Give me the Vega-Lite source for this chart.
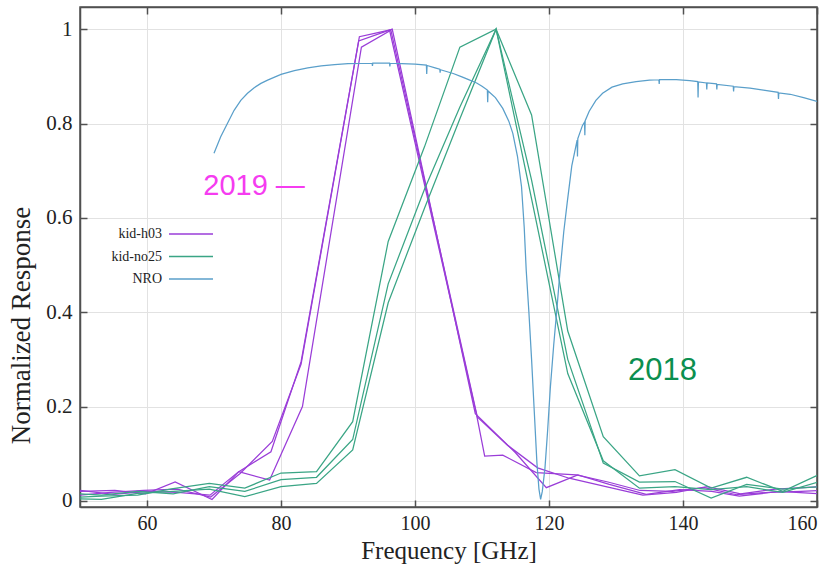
{
  "$schema": "https://vega.github.io/schema/vega-lite/v6.json",
  "width": 737,
  "height": 500,
  "autosize": {"type": "none"},
  "padding": {"left": 80, "top": 7, "right": 21, "bottom": 63},
  "background": "white",
  "config": {
    "view": {"stroke": "#505050", "strokeWidth": 1.5},
    "font": "Liberation Serif"
  },
  "datasets": {
    "curves": [
      {"series":"kid-h03","curve":"h1","f":50,"r":0.02},{"series":"kid-h03","curve":"h1","f":55.2,"r":0.022},{"series":"kid-h03","curve":"h1","f":59.8,"r":0.015},{"series":"kid-h03","curve":"h1","f":64.2,"r":0.04},{"series":"kid-h03","curve":"h1","f":69.7,"r":0.003},{"series":"kid-h03","curve":"h1","f":73.7,"r":0.062},{"series":"kid-h03","curve":"h1","f":78.5,"r":0.104},{"series":"kid-h03","curve":"h1","f":83.0,"r":0.295},{"series":"kid-h03","curve":"h1","f":91.7,"r":0.984},{"series":"kid-h03","curve":"h1","f":96.2,"r":0.998},{"series":"kid-h03","curve":"h1","f":109.2,"r":0.182},{"series":"kid-h03","curve":"h1","f":110.4,"r":0.095},{"series":"kid-h03","curve":"h1","f":113.1,"r":0.097},{"series":"kid-h03","curve":"h1","f":118.1,"r":0.06},{"series":"kid-h03","curve":"h1","f":124.1,"r":0.055},{"series":"kid-h03","curve":"h1","f":128.8,"r":0.04},{"series":"kid-h03","curve":"h1","f":133.6,"r":0.022},{"series":"kid-h03","curve":"h1","f":138.4,"r":0.02},{"series":"kid-h03","curve":"h1","f":143.2,"r":0.028},{"series":"kid-h03","curve":"h1","f":148.0,"r":0.013},{"series":"kid-h03","curve":"h1","f":152.8,"r":0.018},{"series":"kid-h03","curve":"h1","f":157.6,"r":0.02},{"series":"kid-h03","curve":"h1","f":160.5,"r":0.022},
      {"series":"kid-h03","curve":"h2","f":50,"r":0.012},{"series":"kid-h03","curve":"h2","f":54.6,"r":0.018},{"series":"kid-h03","curve":"h2","f":59.5,"r":0.022},{"series":"kid-h03","curve":"h2","f":64.5,"r":0.025},{"series":"kid-h03","curve":"h2","f":69.5,"r":0.008},{"series":"kid-h03","curve":"h2","f":73.9,"r":0.058},{"series":"kid-h03","curve":"h2","f":78.7,"r":0.126},{"series":"kid-h03","curve":"h2","f":83.0,"r":0.29},{"series":"kid-h03","curve":"h2","f":91.6,"r":0.975},{"series":"kid-h03","curve":"h2","f":96.6,"r":1.0},{"series":"kid-h03","curve":"h2","f":109.0,"r":0.185},{"series":"kid-h03","curve":"h2","f":115.0,"r":0.102},{"series":"kid-h03","curve":"h2","f":119.6,"r":0.028},{"series":"kid-h03","curve":"h2","f":124.3,"r":0.055},{"series":"kid-h03","curve":"h2","f":129.0,"r":0.035},{"series":"kid-h03","curve":"h2","f":134.5,"r":0.014},{"series":"kid-h03","curve":"h2","f":139.5,"r":0.024},{"series":"kid-h03","curve":"h2","f":144.3,"r":0.02},{"series":"kid-h03","curve":"h2","f":148.4,"r":0.01},{"series":"kid-h03","curve":"h2","f":154.4,"r":0.02},{"series":"kid-h03","curve":"h2","f":160.5,"r":0.015},
      {"series":"kid-h03","curve":"h3","f":50,"r":0.022},{"series":"kid-h03","curve":"h3","f":55.0,"r":0.014},{"series":"kid-h03","curve":"h3","f":60.0,"r":0.02},{"series":"kid-h03","curve":"h3","f":64.6,"r":0.018},{"series":"kid-h03","curve":"h3","f":69.4,"r":0.012},{"series":"kid-h03","curve":"h3","f":73.7,"r":0.062},{"series":"kid-h03","curve":"h3","f":78.3,"r":0.044},{"series":"kid-h03","curve":"h3","f":83.2,"r":0.2},{"series":"kid-h03","curve":"h3","f":92.0,"r":0.962},{"series":"kid-h03","curve":"h3","f":96.4,"r":0.998},{"series":"kid-h03","curve":"h3","f":109.3,"r":0.178},{"series":"kid-h03","curve":"h3","f":113.8,"r":0.118},{"series":"kid-h03","curve":"h3","f":118.3,"r":0.07},{"series":"kid-h03","curve":"h3","f":123.0,"r":0.048},{"series":"kid-h03","curve":"h3","f":128.5,"r":0.03},{"series":"kid-h03","curve":"h3","f":134.0,"r":0.012},{"series":"kid-h03","curve":"h3","f":139.0,"r":0.018},{"series":"kid-h03","curve":"h3","f":143.6,"r":0.03},{"series":"kid-h03","curve":"h3","f":148.6,"r":0.015},{"series":"kid-h03","curve":"h3","f":153.8,"r":0.025},{"series":"kid-h03","curve":"h3","f":160.5,"r":0.03},
      {"series":"kid-no25","curve":"g1","f":50,"r":0.008},{"series":"kid-no25","curve":"g1","f":53.2,"r":0.01},{"series":"kid-no25","curve":"g1","f":58.6,"r":0.012},{"series":"kid-no25","curve":"g1","f":63.9,"r":0.026},{"series":"kid-no25","curve":"g1","f":69.3,"r":0.037},{"series":"kid-no25","curve":"g1","f":74.6,"r":0.027},{"series":"kid-no25","curve":"g1","f":80.0,"r":0.059},{"series":"kid-no25","curve":"g1","f":85.3,"r":0.062},{"series":"kid-no25","curve":"g1","f":90.7,"r":0.168},{"series":"kid-no25","curve":"g1","f":96.0,"r":0.55},{"series":"kid-no25","curve":"g1","f":101.4,"r":0.75},{"series":"kid-no25","curve":"g1","f":106.7,"r":0.962},{"series":"kid-no25","curve":"g1","f":112.1,"r":1.0},{"series":"kid-no25","curve":"g1","f":117.4,"r":0.818},{"series":"kid-no25","curve":"g1","f":122.8,"r":0.36},{"series":"kid-no25","curve":"g1","f":128.1,"r":0.136},{"series":"kid-no25","curve":"g1","f":133.5,"r":0.053},{"series":"kid-no25","curve":"g1","f":138.8,"r":0.066},{"series":"kid-no25","curve":"g1","f":144.2,"r":0.027},{"series":"kid-no25","curve":"g1","f":149.5,"r":0.05},{"series":"kid-no25","curve":"g1","f":154.9,"r":0.02},{"series":"kid-no25","curve":"g1","f":160.2,"r":0.055},
      {"series":"kid-no25","curve":"g2","f":50,"r":0.004},{"series":"kid-no25","curve":"g2","f":53.2,"r":0.003},{"series":"kid-no25","curve":"g2","f":58.6,"r":0.016},{"series":"kid-no25","curve":"g2","f":63.9,"r":0.02},{"series":"kid-no25","curve":"g2","f":69.3,"r":0.025},{"series":"kid-no25","curve":"g2","f":74.6,"r":0.009},{"series":"kid-no25","curve":"g2","f":80.0,"r":0.03},{"series":"kid-no25","curve":"g2","f":85.3,"r":0.037},{"series":"kid-no25","curve":"g2","f":90.7,"r":0.108},{"series":"kid-no25","curve":"g2","f":96.0,"r":0.42},{"series":"kid-no25","curve":"g2","f":101.4,"r":0.62},{"series":"kid-no25","curve":"g2","f":106.7,"r":0.81},{"series":"kid-no25","curve":"g2","f":112.1,"r":1.0},{"series":"kid-no25","curve":"g2","f":117.4,"r":0.68},{"series":"kid-no25","curve":"g2","f":122.8,"r":0.3},{"series":"kid-no25","curve":"g2","f":128.1,"r":0.08},{"series":"kid-no25","curve":"g2","f":133.5,"r":0.04},{"series":"kid-no25","curve":"g2","f":138.8,"r":0.041},{"series":"kid-no25","curve":"g2","f":144.2,"r":0.006},{"series":"kid-no25","curve":"g2","f":149.5,"r":0.035},{"series":"kid-no25","curve":"g2","f":154.9,"r":0.025},{"series":"kid-no25","curve":"g2","f":160.2,"r":0.03},
      {"series":"kid-no25","curve":"g3","f":50,"r":0.015},{"series":"kid-no25","curve":"g3","f":53.2,"r":0.012},{"series":"kid-no25","curve":"g3","f":58.6,"r":0.02},{"series":"kid-no25","curve":"g3","f":63.9,"r":0.015},{"series":"kid-no25","curve":"g3","f":69.3,"r":0.03},{"series":"kid-no25","curve":"g3","f":74.6,"r":0.02},{"series":"kid-no25","curve":"g3","f":80.0,"r":0.045},{"series":"kid-no25","curve":"g3","f":85.3,"r":0.05},{"series":"kid-no25","curve":"g3","f":90.7,"r":0.13},{"series":"kid-no25","curve":"g3","f":96.0,"r":0.46},{"series":"kid-no25","curve":"g3","f":101.4,"r":0.66},{"series":"kid-no25","curve":"g3","f":106.7,"r":0.835},{"series":"kid-no25","curve":"g3","f":112.1,"r":1.0},{"series":"kid-no25","curve":"g3","f":117.4,"r":0.64},{"series":"kid-no25","curve":"g3","f":122.8,"r":0.27},{"series":"kid-no25","curve":"g3","f":128.1,"r":0.085},{"series":"kid-no25","curve":"g3","f":133.5,"r":0.027},{"series":"kid-no25","curve":"g3","f":138.8,"r":0.03},{"series":"kid-no25","curve":"g3","f":144.2,"r":0.024},{"series":"kid-no25","curve":"g3","f":149.5,"r":0.03},{"series":"kid-no25","curve":"g3","f":154.9,"r":0.018},{"series":"kid-no25","curve":"g3","f":160.2,"r":0.04},
      {"series":"NRO","curve":"nro","f":70.0,"r":0.737},{"series":"NRO","curve":"nro","f":71,"r":0.772},{"series":"NRO","curve":"nro","f":72,"r":0.8},{"series":"NRO","curve":"nro","f":73,"r":0.828},{"series":"NRO","curve":"nro","f":74,"r":0.849},{"series":"NRO","curve":"nro","f":75,"r":0.864},{"series":"NRO","curve":"nro","f":76,"r":0.876},{"series":"NRO","curve":"nro","f":77,"r":0.885},{"series":"NRO","curve":"nro","f":78,"r":0.892},{"series":"NRO","curve":"nro","f":80,"r":0.904},{"series":"NRO","curve":"nro","f":82,"r":0.912},{"series":"NRO","curve":"nro","f":84,"r":0.918},{"series":"NRO","curve":"nro","f":86,"r":0.922},{"series":"NRO","curve":"nro","f":88,"r":0.925},{"series":"NRO","curve":"nro","f":90,"r":0.927},{"series":"NRO","curve":"nro","f":93.6,"r":0.928},{"series":"NRO","curve":"nro","f":93.65,"r":0.922},{"series":"NRO","curve":"nro","f":93.7,"r":0.928},{"series":"NRO","curve":"nro","f":96.2,"r":0.928},{"series":"NRO","curve":"nro","f":96.25,"r":0.921},{"series":"NRO","curve":"nro","f":96.3,"r":0.928},{"series":"NRO","curve":"nro","f":98,"r":0.927},{"series":"NRO","curve":"nro","f":100,"r":0.926},{"series":"NRO","curve":"nro","f":101.7,"r":0.924},{"series":"NRO","curve":"nro","f":101.75,"r":0.905},{"series":"NRO","curve":"nro","f":101.8,"r":0.923},{"series":"NRO","curve":"nro","f":103,"r":0.918},{"series":"NRO","curve":"nro","f":103.7,"r":0.915},{"series":"NRO","curve":"nro","f":103.75,"r":0.908},{"series":"NRO","curve":"nro","f":103.8,"r":0.914},{"series":"NRO","curve":"nro","f":105.7,"r":0.906},{"series":"NRO","curve":"nro","f":107,"r":0.899},{"series":"NRO","curve":"nro","f":108,"r":0.893},{"series":"NRO","curve":"nro","f":109.2,"r":0.886},{"series":"NRO","curve":"nro","f":110,"r":0.879},{"series":"NRO","curve":"nro","f":110.8,"r":0.871},{"series":"NRO","curve":"nro","f":110.85,"r":0.845},{"series":"NRO","curve":"nro","f":110.9,"r":0.869},{"series":"NRO","curve":"nro","f":112,"r":0.855},{"series":"NRO","curve":"nro","f":113.1,"r":0.832},{"series":"NRO","curve":"nro","f":114,"r":0.805},{"series":"NRO","curve":"nro","f":114.6,"r":0.779},{"series":"NRO","curve":"nro","f":115.3,"r":0.73},{"series":"NRO","curve":"nro","f":115.9,"r":0.666},{"series":"NRO","curve":"nro","f":116.3,"r":0.58},{"series":"NRO","curve":"nro","f":116.6,"r":0.489},{"series":"NRO","curve":"nro","f":117.0,"r":0.4},{"series":"NRO","curve":"nro","f":117.4,"r":0.3},{"series":"NRO","curve":"nro","f":117.8,"r":0.19},{"series":"NRO","curve":"nro","f":118.2,"r":0.08},{"series":"NRO","curve":"nro","f":118.5,"r":0.025},{"series":"NRO","curve":"nro","f":118.75,"r":0.003},{"series":"NRO","curve":"nro","f":119.0,"r":0.02},{"series":"NRO","curve":"nro","f":119.4,"r":0.07},{"series":"NRO","curve":"nro","f":119.8,"r":0.15},{"series":"NRO","curve":"nro","f":120.2,"r":0.24},{"series":"NRO","curve":"nro","f":120.7,"r":0.33},{"series":"NRO","curve":"nro","f":121.2,"r":0.41},{"series":"NRO","curve":"nro","f":121.6,"r":0.48},{"series":"NRO","curve":"nro","f":122.2,"r":0.57},{"series":"NRO","curve":"nro","f":122.7,"r":0.63},{"series":"NRO","curve":"nro","f":123.4,"r":0.71},{"series":"NRO","curve":"nro","f":124.2,"r":0.765},{"series":"NRO","curve":"nro","f":124.25,"r":0.73},{"series":"NRO","curve":"nro","f":124.3,"r":0.768},{"series":"NRO","curve":"nro","f":125.0,"r":0.796},{"series":"NRO","curve":"nro","f":125.3,"r":0.803},{"series":"NRO","curve":"nro","f":125.35,"r":0.775},{"series":"NRO","curve":"nro","f":125.4,"r":0.806},{"series":"NRO","curve":"nro","f":126,"r":0.826},{"series":"NRO","curve":"nro","f":127,"r":0.849},{"series":"NRO","curve":"nro","f":128,"r":0.864},{"series":"NRO","curve":"nro","f":129.4,"r":0.877},{"series":"NRO","curve":"nro","f":131,"r":0.884},{"series":"NRO","curve":"nro","f":133,"r":0.889},{"series":"NRO","curve":"nro","f":135,"r":0.892},{"series":"NRO","curve":"nro","f":136.4,"r":0.893},{"series":"NRO","curve":"nro","f":136.45,"r":0.884},{"series":"NRO","curve":"nro","f":136.5,"r":0.893},{"series":"NRO","curve":"nro","f":139,"r":0.893},{"series":"NRO","curve":"nro","f":141,"r":0.891},{"series":"NRO","curve":"nro","f":142.2,"r":0.889},{"series":"NRO","curve":"nro","f":142.25,"r":0.855},{"series":"NRO","curve":"nro","f":142.3,"r":0.888},{"series":"NRO","curve":"nro","f":143.5,"r":0.886},{"series":"NRO","curve":"nro","f":143.55,"r":0.872},{"series":"NRO","curve":"nro","f":143.6,"r":0.886},{"series":"NRO","curve":"nro","f":145,"r":0.884},{"series":"NRO","curve":"nro","f":145.05,"r":0.872},{"series":"NRO","curve":"nro","f":145.1,"r":0.883},{"series":"NRO","curve":"nro","f":147.5,"r":0.879},{"series":"NRO","curve":"nro","f":147.55,"r":0.868},{"series":"NRO","curve":"nro","f":147.6,"r":0.878},{"series":"NRO","curve":"nro","f":150,"r":0.875},{"series":"NRO","curve":"nro","f":152,"r":0.871},{"series":"NRO","curve":"nro","f":154.2,"r":0.866},{"series":"NRO","curve":"nro","f":154.25,"r":0.852},{"series":"NRO","curve":"nro","f":154.3,"r":0.865},{"series":"NRO","curve":"nro","f":156,"r":0.862},{"series":"NRO","curve":"nro","f":158,"r":0.855},{"series":"NRO","curve":"nro","f":160,"r":0.847}
    ],
    "notes": [
      {"year": 2019, "label": "2019 —", "f": 68.4, "r": 0.667},
      {"year": 2018, "label": "2018", "f": 131.8, "r": 0.276}
    ]
  },
  "layer": [
    {
      "data": {"name": "curves"},
      "mark": {"type": "line", "strokeWidth": 1.25, "clip": true},
      "encoding": {
        "x": {
          "field": "f", "type": "quantitative",
          "scale": {"domain": [50, 160], "nice": false, "zero": false},
          "axis": {
            "orient": "bottom", "values": [60, 80, 100, 120, 140, 160], "format": "d",
            "title": "Frequency [GHz]", "grid": true, "gridColor": "#e2e2e2", "gridWidth": 1,
            "domainColor": "#505050", "domainWidth": 1.5, "tickColor": "#505050", "tickWidth": 1.5,
            "tickSize": -7, "labelPadding": 13,
            "labelFont": "Liberation Serif", "labelFontSize": 20, "labelColor": "#222",
            "titleFont": "Liberation Serif", "titleFontSize": 25, "titleFontWeight": "normal",
            "titleColor": "#222", "titlePadding": 5
          }
        },
        "y": {
          "field": "r", "type": "quantitative",
          "scale": {"domain": [-0.013, 1.047], "nice": false, "zero": false},
          "axis": {
            "orient": "left", "values": [0, 0.2, 0.4, 0.6, 0.8, 1], "format": "~g",
            "title": "Normalized Response", "grid": true, "gridColor": "#e2e2e2", "gridWidth": 1,
            "domainColor": "#505050", "domainWidth": 1.5, "tickColor": "#505050", "tickWidth": 1.5,
            "tickSize": -7, "labelPadding": 15,
            "labelFont": "Liberation Serif", "labelFontSize": 21, "labelColor": "#222",
            "titleFont": "Liberation Serif", "titleFontSize": 27, "titleFontWeight": "normal",
            "titleColor": "#222", "titlePadding": 10, "titleY": 318
          }
        },
        "color": {
          "field": "series", "type": "nominal",
          "scale": {"domain": ["kid-h03", "kid-no25", "NRO"], "range": ["#9a3dd8", "#3aa585", "#5a9fca"]},
          "legend": {
            "orient": "none", "legendX": 96, "legendY": 212, "title": null,
            "symbolType": "M -4 0 H 4", "symbolSize": 121, "symbolStrokeWidth": 1.5,
            "labelAlign": "right", "labelOffset": -36,
            "labelFont": "Liberation Serif", "labelFontSize": 14, "labelColor": "#222",
            "rowPadding": 8.5, "padding": 8, "fillColor": "white"
          }
        },
        "detail": {"field": "curve"}
      }
    },
    {
      "data": {"name": "notes"},
      "transform": [{"filter": "datum.year == 2019"}],
      "mark": {"type": "text", "align": "left", "baseline": "middle", "font": "Liberation Sans", "fontSize": 29, "color": "#f53cf0"},
      "encoding": {
        "x": {
          "field": "f", "type": "quantitative",
          "scale": {"domain": [50, 160], "nice": false, "zero": false},
          "axis": {"orient": "top", "values": [60, 80, 100, 120, 140, 160], "labels": false, "grid": false, "title": null,
                   "domainColor": "#505050", "domainWidth": 1.5, "tickColor": "#505050", "tickWidth": 1.5, "tickSize": -7}
        },
        "y": {
          "field": "r", "type": "quantitative",
          "scale": {"domain": [-0.013, 1.047], "nice": false, "zero": false},
          "axis": {"orient": "right", "values": [0, 0.2, 0.4, 0.6, 0.8, 1], "labels": false, "grid": false, "title": null,
                   "domainColor": "#505050", "domainWidth": 1.5, "tickColor": "#505050", "tickWidth": 1.5, "tickSize": -7}
        },
        "text": {"field": "label"}
      }
    },
    {
      "data": {"name": "notes"},
      "transform": [{"filter": "datum.year == 2018"}],
      "mark": {"type": "text", "align": "left", "baseline": "middle", "font": "Liberation Sans", "fontSize": 31, "color": "#0b8f4f"},
      "encoding": {
        "x": {"field": "f", "type": "quantitative", "scale": {"domain": [50, 160], "nice": false, "zero": false}, "axis": null},
        "y": {"field": "r", "type": "quantitative", "scale": {"domain": [-0.013, 1.047], "nice": false, "zero": false}, "axis": null},
        "text": {"field": "label"}
      }
    }
  ],
  "resolve": {"axis": {"x": "independent", "y": "independent"}}
}
